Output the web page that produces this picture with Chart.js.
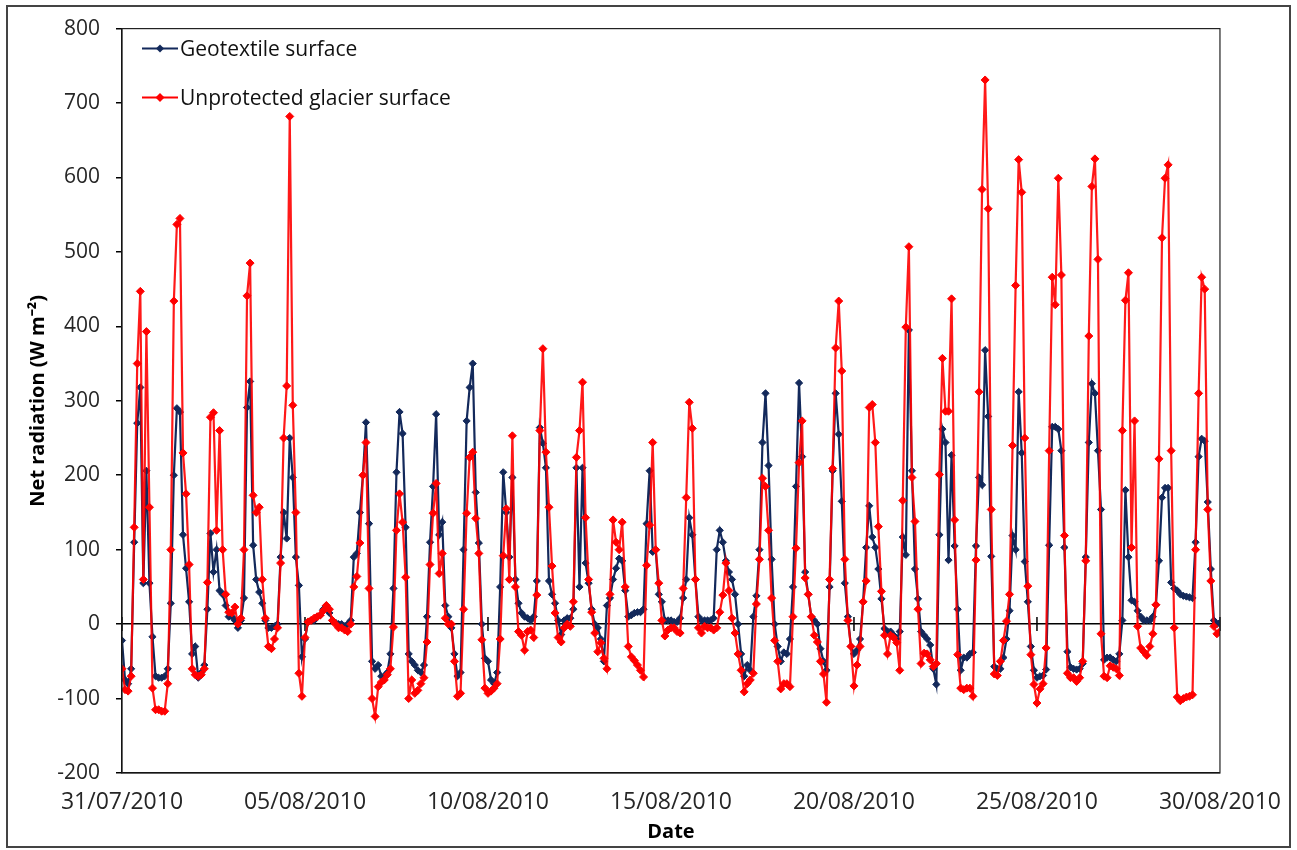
<!DOCTYPE html>
<html>
<head>
<meta charset="utf-8">
<script src="https://cdn.jsdelivr.net/npm/chart.js@4.4.1/dist/chart.umd.min.js"></script>
<style>
  html, body { margin: 0; padding: 0; background: #fff; }
  #wrap { position: relative; width: 1297px; height: 850px; }
  #frame { position: absolute; left: 6px; top: 5px; width: 1281px; height: 839px; border: 2px solid #444; pointer-events: none; }
</style>
</head>
<body>
<div id="wrap">
  <canvas id="chart" width="1297" height="850"></canvas>
  <div id="frame"></div>
</div>
<script>
// one value every 2 hours, from 31/07/2010 00:00 to 30/08/2010 00:00
const STEP_H = 2;
const dateLabels = ['31/07/2010', '05/08/2010', '10/08/2010', '15/08/2010', '20/08/2010', '25/08/2010', '30/08/2010'];

const geotextile = [
  -22, -75, -80, -60, 110, 270, 318, 55, 206, 55, -17, -70,      // 31/07
  -72, -72, -70, -60, 28, 200, 290, 285, 120, 75, 30, -40,       // 01/08
  -30, -72, -65, -55, 20, 122, 70, 100, 45, 40, 25, 10,
  10, 5, -5, 5, 35, 291, 326, 106, 60, 43, 28, 5,
  -5, -5, -3, 0, 90, 150, 115, 250, 197, 90, 52, -44,
  -20, 3, 5, 5, 10, 12, 20, 25, 15, 5, 2, 0,                     // 05/08
  0, -3, 0, 5, 90, 95, 150, 200, 271, 135, -50, -60,
  -55, -70, -70, -65, -40, 48, 204, 285, 256, 130, -40, -50,
  -55, -62, -65, -55, 10, 110, 185, 282, 120, 137, 25, 10,
  -5, -40, -70, -65, 100, 273, 318, 350, 177, 109, 0, -46,
  -50, -75, -80, -65, 50, 204, 150, 90, 197, 60, 28, 15,         // 10/08
  10, 8, 5, 10, 58, 264, 243, 210, 58, 40, 28, 5,
  -14, 5, 8, 8, 20, 210, 50, 210, 82, 55, 20, 0,
  -5, -20, -50, 25, 35, 60, 75, 88, 85, 45, 10, 12,
  15, 16, 16, 20, 135, 206, 97, 100, 40, 30, 5, 5,
  5, 3, 3, 8, 35, 60, 143, 120, 60, 10, 5, 5,                    // 15/08
  5, 5, 8, 100, 126, 110, 85, 70, 60, 40, 0, -40,
  -70, -55, -62, 10, 38, 100, 244, 310, 213, 87, 0, -30,
  -50, -38, -40, -20, 50, 185, 324, 225, 70, 40, 10, 5,
  0, -33, -50, -62, 50, 206, 310, 255, 165, 55, 10, -30,
  -40, -35, -20, 30, 103, 159, 117, 103, 74, 34, -6, -10,        // 20/08
  -10, -15, -20, -10, 117, 93, 395, 206, 74, 34, -10, -15,
  -20, -28, -60, -81, 120, 262, 244, 86, 227, 105, 20, -62,
  -45, -45, -40, -38, 105, 197, 187, 368, 279, 91, -57, -60,
  -60, -45, -20, 18, 119, 100, 312, 230, 84, 30, -30, -62,
  -72, -70, -69, -61, 106, 265, 265, 262, 233, 103, -37, -58,    // 25/08
  -60, -61, -60, -53, 90, 244, 323, 310, 233, 154, -48, -45,
  -45, -48, -50, -40, 5, 180, 90, 32, 30, 18, 10, 5,
  5, 5, 10, 26, 85, 170, 183, 183, 56, 48, 45, 40,
  38, 37, 36, 35, 110, 225, 249, 246, 164, 74, 5, 0,
  2                                                              // 30/08
];

const unprotected = [
  -60, -88, -90, -70, 130, 350, 447, 60, 393, 157, -86, -115,    // 31/07
  -115, -117, -117, -80, 100, 434, 537, 545, 230, 175, 80, -60,  // 01/08
  -68, -70, -68, -60, 56, 278, 284, 126, 260, 100, 40, 16,
  15, 23, 0, 8, 100, 441, 485, 173, 150, 157, 60, 8,
  -30, -33, -20, -5, 82, 250, 320, 682, 294, 150, -66, -97,
  -18, 3, 5, 8, 10, 12, 18, 25, 20, 5, 0, -5,                    // 05/08
  -5, -8, -10, 0, 50, 64, 109, 200, 244, 48, -100, -124,
  -84, -78, -75, -68, -60, -4, 126, 175, 137, 63, -100, -75,
  -93, -89, -80, -72, -24, 80, 149, 189, 68, 95, 8, 0,
  0, -50, -97, -93, 20, 149, 224, 231, 142, 95, -21, -86,
  -93, -90, -86, -80, -20, 92, 155, 60, 253, 50, -10, -15,       // 10/08
  -35, -10, -8, -18, 39, 260, 370, 231, 157, 78, 15, -18,
  -24, -5, 0, -3, 30, 224, 260, 325, 143, 60, 16, -12,
  -37, -25, -46, -60, 40, 140, 110, 100, 137, 50, -30, -44,
  -49, -55, -62, -71, 79, 133, 244, 100, 55, 5, -16, -8,
  -5, -5, -10, -12, 48, 170, 298, 263, 60, -5, -12, -3,          // 15/08
  -5, -5, -8, -5, 16, 39, 82, 45, 8, -12, -40, -62,
  -91, -80, -75, -66, 27, 87, 196, 185, 126, 35, -22, -50,
  -87, -80, -80, -84, 10, 102, 217, 273, 62, 40, 10, -15,
  -24, -50, -67, -105, 60, 209, 371, 434, 340, 87, 5, -30,
  -83, -55, -30, 30, 58, 291, 295, 244, 131, 44, -15, -40,       // 20/08
  -15, -18, -25, -62, 166, 399, 507, 197, 138, 20, -53, -39,
  -40, -48, -57, -53, 201, 357, 286, 286, 437, 140, -41, -86,
  -88, -86, -86, -97, 86, 312, 584, 731, 558, 154, -67, -69,
  -50, -22, 4, 40, 240, 455, 624, 580, 250, 51, -41, -81,
  -106, -87, -80, -32, 233, 466, 429, 599, 469, 119, -66, -72,   // 25/08
  -72, -77, -72, -50, 85, 387, 588, 625, 490, -13, -70, -72,
  -56, -58, -60, -69, 260, 435, 472, 103, 273, -3, -32, -37,
  -42, -30, -13, 26, 222, 519, 599, 617, 233, -5, -98, -103,
  -100, -98, -97, -95, 100, 310, 466, 450, 154, 58, -3, -13,
  -10                                                            // 30/08
];

const seriesNames = ['Geotextile surface', 'Unprotected glacier surface'];
const navy = '#13295B';
const red = '#FF0000';

const toPoints = (arr) => arr.map((v, i) => ({ x: i * STEP_H, y: v }));

Chart.defaults.font.family = "'Open Sans', sans-serif";
Chart.defaults.color = '#404040';

// plot frame, tick marks across the zero line and the legend box
const extras = {
    id: 'extras',
    beforeDatasetsDraw(chart) {
        const { ctx, scales } = chart;
        const y0 = scales.y.getPixelForValue(0);
        ctx.save();
        ctx.strokeStyle = '#000';
        ctx.lineWidth = 1.5;
        scales.x.ticks.forEach((t) => {
            const x = scales.x.getPixelForValue(t.value);
            ctx.beginPath();
            ctx.moveTo(x, y0 - 7);
            ctx.lineTo(x, y0 + 7);
            ctx.stroke();
        });
        ctx.restore();
    },
    afterDraw(chart) {
        const { ctx, chartArea } = chart;
        ctx.save();
        ctx.strokeStyle = '#222';
        ctx.lineWidth = 1.2;
        ctx.strokeRect(chartArea.left, chartArea.top, chartArea.right - chartArea.left, chartArea.bottom - chartArea.top);

        const rows = [
            { name: seriesNames[0], color: navy, r: 4, y: chartArea.top + 20 },
            { name: seriesNames[1], color: red, r: 4.5, y: chartArea.top + 69 },
        ];
        rows.forEach((row) => {
            const x1 = chartArea.left + 20;
            const x2 = chartArea.left + 56;
            ctx.strokeStyle = row.color;
            ctx.lineWidth = 2;
            ctx.beginPath();
            ctx.moveTo(x1, row.y);
            ctx.lineTo(x2, row.y);
            ctx.stroke();
            const cx = (x1 + x2) / 2;
            ctx.fillStyle = row.color;
            ctx.beginPath();
            ctx.moveTo(cx, row.y - row.r);
            ctx.lineTo(cx + row.r, row.y);
            ctx.lineTo(cx, row.y + row.r);
            ctx.lineTo(cx - row.r, row.y);
            ctx.closePath();
            ctx.fill();
            ctx.fillStyle = '#111';
            ctx.font = "21px 'Open Sans', sans-serif";
            ctx.textBaseline = 'middle';
            ctx.textAlign = 'left';
            ctx.fillText(row.name, x2 + 2, row.y + 1);
        });
        ctx.restore();
    }
};

new Chart(document.getElementById('chart'), {
    type: 'line',
    data: {
        datasets: [
            {
                label: seriesNames[0],
                data: toPoints(geotextile),
                borderColor: navy,
                backgroundColor: navy,
                borderWidth: 2.2,
                pointStyle: 'rectRot',
                pointRadius: 3.6,
                pointBorderWidth: 1,
                tension: 0,
                order: 2,
            },
            {
                label: seriesNames[1],
                data: toPoints(unprotected),
                borderColor: 'rgba(255, 0, 0, 0.9)',
                backgroundColor: red,
                pointBorderColor: red,
                borderWidth: 2.2,
                pointStyle: 'rectRot',
                pointRadius: 4,
                pointBorderWidth: 1,
                tension: 0,
                order: 1,
            },
        ],
    },
    options: {
        responsive: false,
        animation: false,
        layout: { padding: { top: 27, right: 75, bottom: 0, left: 0 } },
        plugins: {
            legend: { display: false },
            tooltip: { enabled: false },
        },
        scales: {
            x: {
                type: 'linear',
                min: 0,
                max: 720,
                afterFit: (scale) => { scale.height = 77; },
                ticks: {
                    stepSize: 120,
                    padding: 16,
                    maxRotation: 0,
                    font: { size: 23 },
                    color: '#262626',
                    callback: (v) => dateLabels[v / 120],
                },
                grid: { display: false, drawTicks: false },
                border: { display: true, color: '#000', width: 1.2 },
                title: {
                    display: true,
                    text: 'Date',
                    font: { size: 20, weight: 'bold' },
                    color: '#000',
                    padding: { top: 0, bottom: 6 },
                },
            },
            y: {
                min: -200,
                max: 800,
                afterFit: (scale) => { scale.width = 122; },
                ticks: {
                    stepSize: 100,
                    padding: 16,
                    font: { size: 21 },
                    color: '#262626',
                },
                grid: {
                    color: (c) => (c.tick && c.tick.value === 0 ? '#000' : 'rgba(0,0,0,0)'),
                    lineWidth: 1.5,
                    tickColor: '#000',
                    tickLength: 6,
                },
                border: { display: true, color: '#000', width: 1.2 },
                title: {
                    display: true,
                    text: 'Net radiation (W m\u207B\u00B2)',
                    font: { size: 20, weight: 'bold' },
                    color: '#000',
                    padding: { top: 26, bottom: 0 },
                },
            },
        },
    },
    plugins: [extras],
});
</script>
</body>
</html>
